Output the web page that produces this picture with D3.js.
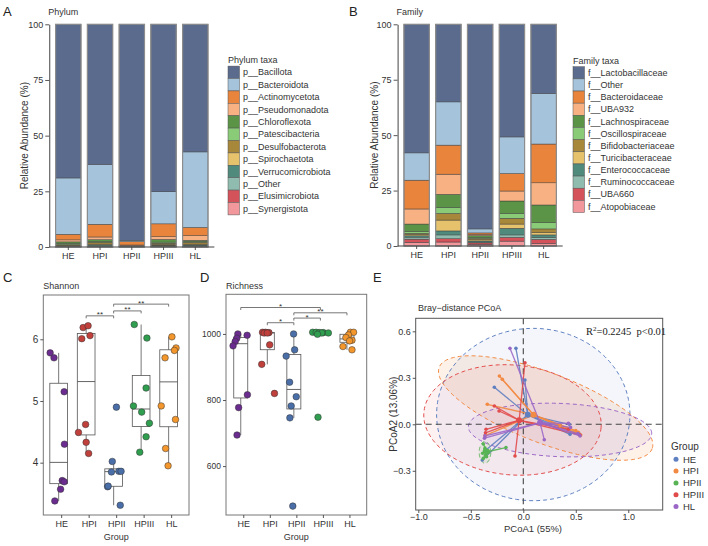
<!DOCTYPE html>
<html><head><meta charset="utf-8">
<script src="https://cdn.jsdelivr.net/npm/d3@7"></script>
<style>
body{margin:0;background:#fff}
svg{display:block}
text{font-family:"Liberation Sans",Arial,sans-serif;fill:#333}
</style>
</head><body>
<svg id="c" width="708" height="546"></svg>
<script>
// ---------------- DATA ----------------
const groups = ["HE","HPI","HPII","HPIII","HL"];

const phylumTaxa = ["p__Bacillota","p__Bacteroidota","p__Actinomycetota","p__Pseudomonadota","p__Chloroflexota","p__Patescibacteria","p__Desulfobacterota","p__Spirochaetota","p__Verrucomicrobiota","p__Other","p__Elusimicrobiota","p__Synergistota"];
const phylumHE    = [69.0, 25.3, 2.5, 0.9, 0.6, 0.6, 0.3, 0.2, 0.2, 0.2, 0.1, 0.1];
const phylumHPI   = [62.9, 26.9, 5.7, 1.2, 0.8, 0.4, 0.8, 0.3, 0.4, 0.3, 0.2, 0.1];
const phylumHPII  = [97.0, 0.6, 1.5, 0.3, 0.1, 0.1, 0.1, 0.1, 0.05, 0.05, 0.05, 0.05];
const phylumHPIII = [75.2, 14.4, 5.8, 1.2, 1.2, 0.5, 0.6, 0.3, 0.3, 0.2, 0.2, 0.1];
const phylumHL    = [57.3, 33.9, 3.7, 2.1, 0.6, 0.3, 0.8, 0.4, 0.3, 0.3, 0.2, 0.1];

const familyTaxa = ["f__Lactobacillaceae","f__Other","f__Bacteroidaceae","f__UBA932","f__Lachnospiraceae","f__Oscillospiraceae","f__Bifidobacteriaceae","f__Turicibacteraceae","f__Enterococcaceae","f__Ruminococcaceae","f__UBA660","f__Atopobiaceae"];
const familyHE    = [58.0, 12.3, 13.0, 6.8, 3.4, 0.8, 0.6, 0.5, 0.6, 0.9, 1.4, 1.7];
const familyHPI   = [35.0, 19.5, 13.1, 9.1, 6.0, 2.6, 3.0, 4.9, 1.8, 1.7, 1.5, 1.8];
const familyHPII  = [92.3, 1.8, 0.7, 0.5, 0.9, 0.4, 0.6, 0.5, 0.5, 0.4, 0.6, 0.8];
const familyHPIII = [50.8, 16.5, 7.9, 4.5, 5.6, 2.2, 2.6, 1.9, 3.0, 1.1, 1.7, 2.2];
const familyHL    = [31.2, 22.8, 17.5, 10.0, 8.0, 2.8, 1.7, 1.0, 1.1, 0.9, 1.8, 1.2];

const taxaColors = ["#5b6b8e","#a5c4dc","#e8843c","#f7b183","#5b9447","#8acb78","#a7873a","#e6c26c","#4f8a7d","#8fbcae","#d4525a","#f2989d"];

// Shannon index per group, with jitter offsets (fraction of category step)
const shannonHE    = [5.78, 5.70, 5.15, 4.30, 3.71, 3.69, 3.57, 3.38];
const shannonHPI   = [6.19, 6.22, 6.01, 6.06, 4.62, 4.49, 4.33, 4.15];
const shannonHPII  = [4.90, 4.02, 3.85, 3.86, 3.86, 3.61, 3.62, 3.31];
const shannonHPIII = [6.24, 6.02, 5.21, 4.92, 4.82, 4.64, 4.42, 4.17];
const shannonHL    = [6.04, 5.86, 5.82, 5.70, 4.92, 4.70, 4.23, 3.95];
const jitShHE    = [-0.31, -0.17, 0.20, 0.21, 0.13, 0.20, 0.07, -0.14];
const jitShHPI   = [-0.11, 0.07, -0.16, 0.14, -0.02, -0.28, 0.00, 0.09];
const jitShHPII  = [0.10, -0.05, -0.08, 0.19, 0.27, -0.22, -0.20, 0.24];
const jitShHPIII = [-0.25, 0.21, 0.18, -0.28, 0.02, 0.30, 0.18, -0.05];
const jitShHL    = [0.12, 0.27, 0.21, -0.13, -0.27, 0.25, -0.11, -0.02];

// Richness per group
const richHE    = [1000, 996, 987, 977, 964, 816, 777, 694];
const richHPI   = [1005, 1005, 1004, 1003, 1003, 967, 908, 820];
const richHPII  = [1000, 952, 933, 854, 810, 782, 746, 479];
const richHPIII = [1005, 1005, 1004, 1004, 1003, 1003, 999, 748];
const richHL    = [1005, 1005, 997, 989, 981, 979, 962, 952];
const jitRiHE    = [-0.11, 0.24, -0.15, -0.21, -0.29, 0.25, -0.08, -0.14];
const jitRiHPI   = [-0.18, -0.07, 0.06, -0.12, 0.00, 0.09, -0.21, 0.27];
const jitRiHPII  = [-0.01, 0.03, -0.29, -0.16, 0.09, -0.10, -0.15, -0.04];
const jitRiHPIII = [-0.29, -0.16, -0.04, 0.11, 0.30, 0.05, -0.11, -0.09];
const jitRiHL    = [0.13, 0.25, 0.06, -0.04, 0.19, 0.10, -0.15, 0.19];

const sigShannon = [["HPI","HPII",6.38,"**"],["HPII","HPIII",6.46,"**"],["HPII","HL",6.57,"**"]];
const sigRichness = [["HE","HPIII",1080,"*"],["HPII","HL",1064,"**"],["HPII","HPIII",1048,"*"],["HPI","HPII",1034,"*"]];

const shannonTicks = [4,5,6];
const richTicks = [600,800,1000];
const abundTicks = [0,25,50,75,100];

// PCoA sample coordinates
const pcoaHEx    = [-0.07, -0.276, 0.016, 0.445, 0.438, -0.355, 0.533, -0.39];
const pcoaHEy    = [0.49, 0.239, 0.286, -0.065, 0.0, -0.166, -0.063, -0.23];
const pcoaHPIx   = [-0.228, -0.343, 0.547, 0.524, 0.50, -0.365, 0.35, -0.2];
const pcoaHPIy   = [0.312, 0.129, -0.069, -0.052, -0.04, -0.073, -0.01, 0.29];
const pcoaHPIIx  = [-0.381, -0.365, -0.387, -0.35, -0.381, -0.165, -0.37, -0.36];
const pcoaHPIIy  = [-0.127, -0.154, -0.187, -0.209, -0.22, -0.15, -0.17, -0.2];
const pcoaHPIIIx = [0.016, -0.276, -0.231, -0.079, -0.355, -0.36, 0.54, 0.429];
const pcoaHPIIIy = [0.397, 0.118, 0.086, -0.205, -0.032, -0.055, -0.069, -0.032];
const pcoaHLx    = [-0.127, 0.429, 0.54, 0.52, -0.365, -0.37, 0.45, 0.2];
const pcoaHLy    = [0.49, 0.006, -0.075, -0.06, -0.075, -0.09, -0.02, -0.1];
// confidence ellipses: center and two conjugate semi-axes (data units)
const ellipseCenters = [[0.095,0.063],[0.213,0.105],[-0.365,-0.181],[-0.103,0.028],[0.35,-0.037]];
const ellipseAxisU   = [[0.921,0],[1.014,-0.263],[0.055,0],[0.844,-0.05],[0.873,-0.021]];
const ellipseAxisV   = [[0,0.556],[-0.119,-0.211],[0,0.07],[-0.046,-0.353],[0,0.172]];
const pcoaTicksX = [-1.0,-0.5,0.0,0.5,1.0];
const pcoaTicksY = [-0.3,0.0,0.3,0.6];

// ---------------- STYLE ----------------
const boxColors = ["#6a2c8e","#c0403c","#4a6ea8","#2f9e4f","#f3962c"];
const pcoaColors = ["#5f80c0","#f28a43","#58b354","#e24b4b","#9b67c6"];
const FS = 9;

const svg = d3.select("#c");
svg.append("rect").attr("width",708).attr("height",546).attr("fill","#fff");

function label(t, x, y, size, opts={}) {
  const el = svg.append("text").attr("x",x).attr("y",y).attr("font-size",size).text(t);
  if (opts.anchor) el.attr("text-anchor",opts.anchor);
  if (opts.fill) el.style("fill",opts.fill);
  if (opts.rotate) el.attr("transform",`rotate(-90,${x},${y})`);
  return el;
}
function styleAxis(g, fs){
  g.selectAll("path.domain").attr("stroke","#444").attr("stroke-width",1);
  g.selectAll(".tick line").attr("stroke","#444").attr("stroke-width",0.9);
  g.selectAll(".tick text").attr("font-size",fs||FS).attr("font-family","Liberation Sans, Arial, sans-serif").style("fill","#333");
}

// ---------------- STACKED BARS ----------------
function stackPanel(o){
  const x = d3.scaleBand().domain(groups).range(o.xr).paddingInner(0.2).paddingOuter(0.2);
  const y = d3.scaleLinear().domain([0,100]).range(o.yr);
  const rows = groups.map((g,i)=>{const r={group:g}; o.taxa.forEach((t,j)=>r[t]=o.values[i][j]); return r;});
  const layers = d3.stack().keys(o.taxa.slice().reverse())(rows);
  const color = d3.scaleOrdinal().domain(o.taxa).range(taxaColors);
  const g = svg.append("g");
  layers.forEach(layer=>{
    g.selectAll(null).data(layer).join("rect")
      .attr("x",d=>x(d.data.group)).attr("width",x.bandwidth())
      .attr("y",d=>y(d[1])).attr("height",d=>Math.max(0,y(d[0])-y(d[1])))
      .attr("fill",color(layer.key)).attr("stroke","#3a3a3a").attr("stroke-width",0.45);
  });
  g.selectAll(null).data(groups).join("rect")
    .attr("x",d=>x(d)).attr("width",x.bandwidth())
    .attr("y",y(100)).attr("height",y(0)-y(100))
    .attr("fill","none").attr("stroke","#8c8c8c").attr("stroke-width",1.2);
  const ay = svg.append("g").attr("transform",`translate(${o.xr[0]},0)`)
    .call(d3.axisLeft(y).tickValues(abundTicks).tickFormat(d3.format("d")).tickSize(4).tickPadding(2).tickSizeOuter(0));
  styleAxis(ay);
  const ax = svg.append("g").attr("transform",`translate(0,${o.yr[0]})`)
    .call(d3.axisBottom(x).tickSize(3).tickPadding(3).tickSizeOuter(0));
  styleAxis(ax);
  ax.select("path.domain").attr("d",`M${o.xr[0]},0H${o.xr[1]}`);
  label("Relative Abundance (%)", o.ytitleX, (o.yr[0]+o.yr[1])/2, 10, {anchor:"middle", rotate:true});
  label(o.title, o.xr[0]-1, 15, FS);
  label(o.letter, o.letterX, 16, 13, {fill:"#222"});
  // legend
  label(o.legendTitle, o.lx, o.ly, FS);
  const lg = svg.append("g");
  o.taxa.forEach((t,i)=>{
    const cy = o.ly + 9.3 + i*o.lstep;
    lg.append("rect").attr("x",o.lx).attr("y",cy-o.lstep/2).attr("width",11.5).attr("height",o.lstep)
      .attr("fill",color(t)).attr("stroke","#555").attr("stroke-width",0.5);
    lg.append("text").attr("x",o.lx+15).attr("y",cy).attr("dy","0.35em").attr("font-size",FS).text(t);
  });
}

stackPanel({xr:[49.25,214.35], yr:[247,24.3], taxa:phylumTaxa,
  values:[phylumHE,phylumHPI,phylumHPII,phylumHPIII,phylumHL],
  title:"Phylum", letter:"A", letterX:3, ytitleX:28.5,
  legendTitle:"Phylum taxa", lx:228, ly:63, lstep:12.4});
stackPanel({xr:[397.6,562.7], yr:[246,24.3], taxa:familyTaxa,
  values:[familyHE,familyHPI,familyHPII,familyHPIII,familyHL],
  title:"Family", letter:"B", letterX:349, ytitleX:378.5,
  legendTitle:"Family taxa", lx:573, ly:63.5, lstep:12.15});

// ---------------- BOX PLOTS ----------------
function boxPanel(o){
  const x = d3.scalePoint().domain(groups).range([o.frame[0],o.frame[2]]).padding(0.65);
  const y = d3.scaleLinear().domain(o.yd).range([o.frame[3],o.frame[1]]);
  const step = x.step();
  const sh = -2.5; // small dodge of boxes relative to tick
  svg.append("rect").attr("x",o.frame[0]).attr("y",o.frame[1])
    .attr("width",o.frame[2]-o.frame[0]).attr("height",o.frame[3]-o.frame[1])
    .attr("fill","none").attr("stroke","#777").attr("stroke-width",1);
  const ay = svg.append("g").attr("transform",`translate(${o.frame[0]},0)`)
    .call(d3.axisLeft(y).tickValues(o.ticks).tickFormat(d3.format("d")).tickSize(3).tickPadding(2));
  ay.select("path.domain").remove(); styleAxis(ay, o.tickFs);
  const ax = svg.append("g").attr("transform",`translate(0,${o.frame[3]})`)
    .call(d3.axisBottom(x).tickSize(3).tickPadding(3));
  ax.select("path.domain").remove(); styleAxis(ax);
  label("Group", (o.frame[0]+o.frame[2])/2, 540, FS, {anchor:"middle"});
  label(o.title, o.frame[0], 289, FS);
  label(o.letter, o.letterX, 282, 13, {fill:"#222"});
  const g = svg.append("g");
  groups.forEach((grp,i)=>{
    const vals = o.values[i];
    const s = vals.slice().sort(d3.ascending);
    const q1 = d3.quantile(s,0.25), med = d3.quantile(s,0.5), q3 = d3.quantile(s,0.75);
    const iqr = q3-q1;
    const lo = d3.min(s.filter(v=>v>=q1-1.5*iqr)), hi = d3.max(s.filter(v=>v<=q3+1.5*iqr));
    const cx = x(grp)+sh, w = o.boxW;
    const st = "#555";
    g.append("line").attr("x1",cx).attr("x2",cx).attr("y1",y(hi)).attr("y2",y(q3)).attr("stroke",st).attr("stroke-width",0.8);
    g.append("line").attr("x1",cx).attr("x2",cx).attr("y1",y(q1)).attr("y2",y(lo)).attr("stroke",st).attr("stroke-width",0.8);
    g.append("rect").attr("x",cx-w/2).attr("width",w).attr("y",y(q3)).attr("height",Math.max(0.5,y(q1)-y(q3)))
      .attr("fill","none").attr("stroke",st).attr("stroke-width",0.8);
    g.append("line").attr("x1",cx-w/2).attr("x2",cx+w/2).attr("y1",y(med)).attr("y2",y(med)).attr("stroke",st).attr("stroke-width",0.9);
    g.selectAll(null).data(vals).join("circle")
      .attr("cx",(d,j)=>cx+o.jit[i][j]*step).attr("cy",d=>y(d)).attr("r",3.3)
      .attr("fill",boxColors[i]).attr("stroke","#333").attr("stroke-width",0.5);
  });
  o.sig.forEach(([a,b,v,t])=>{
    const x1 = x(a)+sh, x2 = x(b)+sh, yy = y(v);
    g.append("path").attr("d",`M${x1},${yy+2.5}V${yy}H${x2}V${yy+2.5}`).attr("fill","none").attr("stroke","#555").attr("stroke-width",0.8);
    g.append("text").attr("x",(x1+x2)/2).attr("y",yy+1.5).attr("text-anchor","middle").attr("font-size",8).text(t);
  });
}
boxPanel({frame:[43.3,295,189,515], yd:[3.152,6.718], ticks:shannonTicks, title:"Shannon", letter:"C", letterX:3, tickFs:10,
  values:[shannonHE,shannonHPI,shannonHPII,shannonHPIII,shannonHL],
  jit:[jitShHE,jitShHPI,jitShHPII,jitShHPIII,jitShHL], boxW:17.7, sig:sigShannon});
boxPanel({frame:[226,294.3,366.7,515], yd:[452,1120], ticks:richTicks, title:"Richness", letter:"D", letterX:200, tickFs:8.5,
  values:[richHE,richHPI,richHPII,richHPIII,richHL],
  jit:[jitRiHE,jitRiHPI,jitRiHPII,jitRiHPIII,jitRiHL], boxW:14, sig:sigRichness});

// ---------------- PCoA ----------------
(function(){
  const F = [415.7,318.3,662.7,510];
  const x = d3.scaleLinear().domain([-1.025,1.328]).range([F[0],F[2]]);
  const y = d3.scaleLinear().domain([-0.553,0.684]).range([F[3],F[1]]);
  const xs = [pcoaHEx,pcoaHPIx,pcoaHPIIx,pcoaHPIIIx,pcoaHLx];
  const ys = [pcoaHEy,pcoaHPIy,pcoaHPIIy,pcoaHPIIIy,pcoaHLy];
  const fillOp = [0.07,0.12,0.10,0.08,0.08];
  const g = svg.append("g");
  const clipId="clipE";
  svg.append("clipPath").attr("id",clipId).append("rect").attr("x",F[0]).attr("y",F[1]).attr("width",F[2]-F[0]).attr("height",F[3]-F[1]);
  const gc = g.append("g").attr("clip-path",`url(#${clipId})`);
  const ts = d3.range(0,Math.PI*2+0.001,Math.PI/90);
  const ell = i => d3.line()(ts.map(t=>[
    x(ellipseCenters[i][0]+ellipseAxisU[i][0]*Math.cos(t)+ellipseAxisV[i][0]*Math.sin(t)),
    y(ellipseCenters[i][1]+ellipseAxisU[i][1]*Math.cos(t)+ellipseAxisV[i][1]*Math.sin(t))]))+"Z";
  groups.forEach((grp,i)=>{
    gc.append("path").attr("d",ell(i)).attr("fill",pcoaColors[i]).attr("fill-opacity",fillOp[i]).attr("stroke","none");
  });
  groups.forEach((grp,i)=>{
    gc.append("path").attr("d",ell(i)).attr("fill","none").attr("stroke",pcoaColors[i]).attr("stroke-width",1).attr("stroke-dasharray","4,3");
  });
  gc.append("line").attr("x1",F[0]).attr("x2",F[2]).attr("y1",y(0)).attr("y2",y(0)).attr("stroke","#444").attr("stroke-width",1.1).attr("stroke-dasharray","6,4");
  gc.append("line").attr("x1",x(0)).attr("x2",x(0)).attr("y1",F[1]).attr("y2",F[3]).attr("stroke","#444").attr("stroke-width",1.1).attr("stroke-dasharray","6,4");
  groups.forEach((grp,i)=>{
    const mx = d3.mean(xs[i]), my = d3.mean(ys[i]);
    xs[i].forEach((vx,j)=>{
      gc.append("line").attr("x1",x(mx)).attr("y1",y(my)).attr("x2",x(vx)).attr("y2",y(ys[i][j]))
        .attr("stroke",pcoaColors[i]).attr("stroke-width",1.3).attr("stroke-opacity",0.9);
    });
  });
  groups.forEach((grp,i)=>{
    const mx = d3.mean(xs[i]), my = d3.mean(ys[i]);
    xs[i].forEach((vx,j)=>{
      gc.append("circle").attr("cx",x(vx)).attr("cy",y(ys[i][j])).attr("r",1.8).attr("fill",pcoaColors[i]);
    });
    gc.append("circle").attr("cx",x(mx)).attr("cy",y(my)).attr("r",3).attr("fill",pcoaColors[i]);
  });
  g.append("rect").attr("x",F[0]).attr("y",F[1]).attr("width",F[2]-F[0]).attr("height",F[3]-F[1])
    .attr("fill","none").attr("stroke","#555").attr("stroke-width",1);
  const ax = svg.append("g").attr("transform",`translate(0,${F[3]})`)
    .call(d3.axisBottom(x).tickValues(pcoaTicksX).tickFormat(d3.format(".1f")).tickSize(3).tickPadding(1));
  ax.select("path.domain").remove(); styleAxis(ax);
  const ay = svg.append("g").attr("transform",`translate(${F[0]},0)`)
    .call(d3.axisLeft(y).tickValues(pcoaTicksY).tickFormat(d3.format(".1f")).tickSize(3).tickPadding(2));
  ay.select("path.domain").remove(); styleAxis(ay);
  label("PCoA1 (55%)", 533, 532, 9.5, {anchor:"middle"});
  label("PCoA2 (13.06%)", 397, (F[1]+F[3])/2, 10, {anchor:"middle", rotate:true});
  label("Bray\u2212distance PCoA", 418, 311, FS);
  label("E", 373, 282, 13, {fill:"#222"});
  const r2 = svg.append("text").attr("x",586).attr("y",335).attr("font-size",10.5)
    .style("font-family","'Liberation Serif','Times New Roman',serif").style("fill","#222");
  r2.append("tspan").text("R");
  r2.append("tspan").attr("dy",-4).attr("font-size",7).text("2");
  r2.append("tspan").attr("dy",4).text("=0.2245  p<0.01").attr("xml:space","preserve");
  // legend
  label("Group", 671, 450, 10);
  groups.forEach((grp,i)=>{
    const cy = 459.3 + i*11.8;
    svg.append("circle").attr("cx",676).attr("cy",cy).attr("r",2.5).attr("fill",pcoaColors[i]);
    svg.append("text").attr("x",683).attr("y",cy).attr("dy","0.35em").attr("font-size",9.5).text(grp);
  });
})();
</script>
</body></html>
